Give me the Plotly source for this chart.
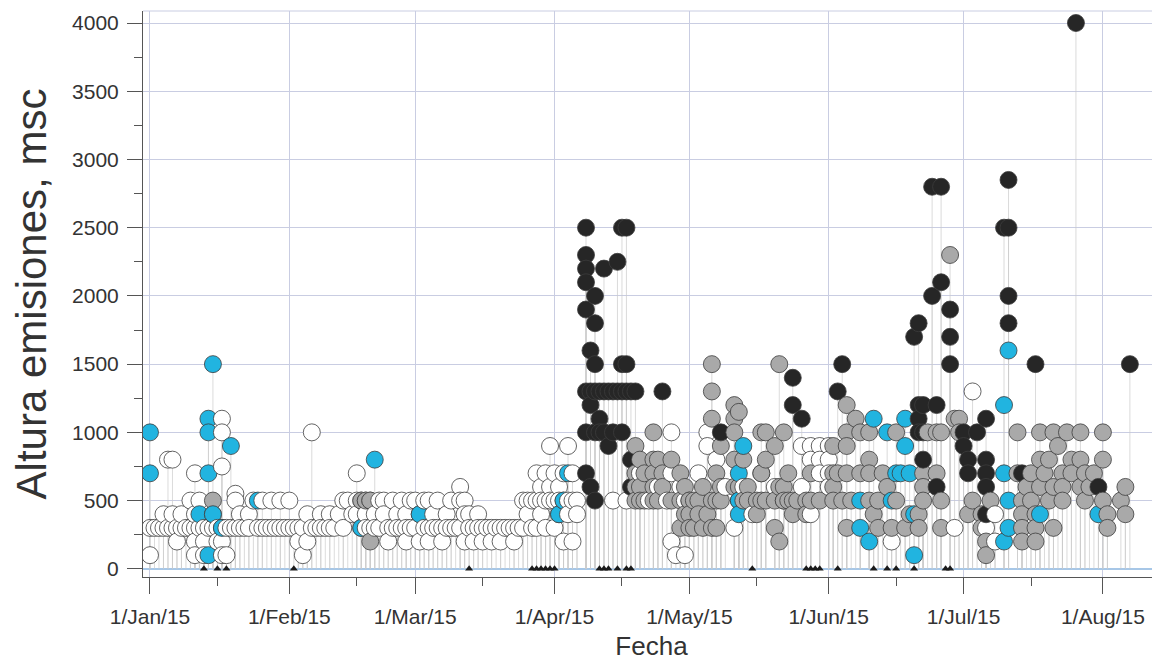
import plotly.graph_objects as go

# ---------------- data (month-day, heights in m) ----------------
WHITE = [
    ("01-01", [300, 100]), ("01-02", [300]), ("01-03", [300]), ("01-04", [300, 400]), ("01-05", [300, 800]),
    ("01-06", [300, 800, 400]), ("01-07", [300, 200]), ("01-08", [300, 400]), ("01-09", [300]), ("01-10", [300, 500]),
    ("01-11", [300, 700, 400, 200, 100]), ("01-12", [300, 500]), ("01-13", [300, 200, 100]), ("01-14", [300]),
    ("01-15", [300, 400]), ("01-16", [300, 200]), ("01-17", [1100, 1000, 750, 300, 200, 100]), ("01-18", [300, 100]),
    ("01-19", [300]), ("01-20", [550, 500, 300]), ("01-21", [400, 300]), ("01-22", [300]), ("01-23", [400, 300]),
    ("01-24", [500]), ("01-25", [300]), ("01-26", [500, 300]), ("01-27", [300]), ("01-28", [500, 300]),
    ("01-29", [300]), ("01-30", [500, 300]), ("01-31", [300]),
    ("02-01", [500, 300]), ("02-02", [300]), ("02-03", [300, 200]), ("02-04", [300, 100]), ("02-05", [400, 200]),
    ("02-06", [1000, 300]), ("02-07", [300]), ("02-08", [400, 300]), ("02-09", [300]), ("02-10", [400, 300]),
    ("02-11", [300]), ("02-12", [400]), ("02-13", [500, 300]), ("02-14", [500]), ("02-15", [400]),
    ("02-16", [700, 500, 400]), ("02-17", [500, 300]), ("02-18", [500, 400, 300]), ("02-19", [500, 300]),
    ("02-20", [400, 300]), ("02-21", [500, 300]), ("02-22", [500, 400]), ("02-23", [300, 200]), ("02-24", [500, 300]),
    ("02-25", [400, 300]), ("02-26", [500, 300]), ("02-27", [400, 300, 200]), ("02-28", [500, 300]),
    ("03-01", [500, 300]), ("03-02", [400, 200]), ("03-03", [500, 300]), ("03-04", [500, 300, 200]),
    ("03-05", [400, 300]), ("03-06", [500, 300]), ("03-07", [300, 200]), ("03-08", [400, 300]), ("03-09", [500, 300]),
    ("03-10", [300]), ("03-11", [600, 500, 300]), ("03-12", [500, 400, 200]), ("03-13", [400, 300]),
    ("03-14", [300, 200]), ("03-15", [400, 300]), ("03-16", [300, 200]), ("03-17", [300]), ("03-18", [300, 200]),
    ("03-19", [300]), ("03-20", [300, 200]), ("03-21", [300]), ("03-22", [300]), ("03-23", [300, 200]),
    ("03-24", [300]), ("03-25", [500, 300]), ("03-26", [500, 400]), ("03-27", [500, 300]), ("03-28", [700, 500, 300]),
    ("03-29", [600, 500, 400]), ("03-30", [700, 500, 300]), ("03-31", [900, 600, 500]),
    ("04-01", [700, 500, 300]), ("04-02", [600, 500, 400]), ("04-03", [700, 500, 200]), ("04-04", [900, 500, 400]),
    ("04-05", [700, 500, 200]), ("04-06", [500, 400]), ("04-14", [500]), ("04-17", [500]), ("04-20", [700]),
    ("04-22", [500]), ("04-24", [600]), ("04-26", [500]), ("04-27", [1000, 700, 200]), ("04-28", [100]),
    ("04-29", [600]), ("04-30", [500, 100]),
    ("05-01", [500]), ("05-03", [700]), ("05-05", [1000, 900]), ("05-07", [800]), ("05-09", [600]),
    ("05-11", [300]), ("05-13", [600]), ("05-15", [400]), ("05-17", [700]), ("05-20", [600]),
    ("05-22", [500]), ("05-26", [900, 600]), ("05-28", [900, 800, 400]), ("05-30", [900, 800, 700]),
    ("06-01", [900, 800, 700, 600]), ("06-15", [200]), ("06-29", [300]),
    ("07-03", [1300]), ("07-06", [300]), ("07-08", [400, 200]),
]

CYAN = [
    ("01-01", [1000, 700]), ("01-12", [400]), ("01-14", [1100, 1000, 700, 100]), ("01-15", [1500, 400]),
    ("01-17", [300]), ("01-19", [900]), ("01-25", [500]), ("02-17", [300]), ("02-20", [800]), ("03-02", [400]),
    ("04-02", [400]), ("04-03", [500]), ("04-04", [700]),
    ("05-12", [700, 500, 400]), ("05-13", [900]),
    ("06-08", [500, 300]), ("06-10", [200]), ("06-11", [1100]), ("06-14", [1000]), ("06-15", [500]),
    ("06-16", [700]), ("06-17", [700]), ("06-18", [1100, 900]), ("06-19", [700]), ("06-20", [400, 100]),
    ("07-10", [1200, 700, 200]), ("07-11", [1600, 500, 300]), ("07-18", [400]), ("07-31", [400]),
]

GRAY = [
    ("01-15", [500]), ("02-17", [500]), ("02-18", [500]), ("02-19", [500, 200]),
    ("04-19", [900, 700, 600, 500]), ("04-20", [800, 600, 500]), ("04-21", [700, 500]),
    ("04-23", [1000, 800, 700, 600, 500]), ("04-24", [800, 500]), ("04-25", [700, 600]), ("04-27", [800, 500]),
    ("04-29", [700, 500, 300]), ("04-30", [600, 400]),
    ("05-01", [500, 400, 300]), ("05-02", [500, 300]), ("05-03", [500, 400]), ("05-04", [600, 300]),
    ("05-05", [400]), ("05-06", [1500, 1300, 1100, 500, 300]), ("05-07", [700, 500, 300]),
    ("05-08", [900, 600, 500]), ("05-11", [1200, 1100, 1000, 800, 600]), ("05-12", [1150, 600, 500]),
    ("05-13", [800, 500]), ("05-14", [600, 500]), ("05-16", [500, 400]), ("05-17", [1000, 700, 500]),
    ("05-18", [1000, 800, 500]), ("05-20", [900, 500, 300]), ("05-21", [1500, 600, 200]),
    ("05-22", [1000, 600, 500]), ("05-23", [700, 500]), ("05-24", [500, 400]), ("05-25", [500]),
    ("05-27", [500, 400]), ("05-28", [700, 500]), ("05-30", [500]),
    ("06-02", [900, 700, 600, 500]), ("06-03", [700]), ("06-04", [500]), ("06-05", [1200, 1000, 900, 700, 300]),
    ("06-06", [500]), ("06-07", [1100]), ("06-08", [1000, 700]), ("06-10", [1000, 800, 700, 500]),
    ("06-11", [400]), ("06-12", [500, 300]), ("06-13", [700]), ("06-14", [600]), ("06-15", [300]),
    ("06-16", [1000, 500]), ("06-18", [300]), ("06-19", [400]), ("06-21", [400, 300]), ("06-22", [700, 600, 500]),
    ("06-23", [1000]), ("06-25", [1000, 700]), ("06-26", [1000, 500, 300]), ("06-28", [2300]),
    ("06-29", [1100]), ("06-30", [1100, 1000]),
    ("07-02", [400]), ("07-03", [500]), ("07-05", [400, 300]), ("07-06", [200, 100]), ("07-07", [500]),
    ("07-13", [1000, 700]), ("07-14", [500, 400, 300, 200]), ("07-15", [600]), ("07-16", [700, 500]),
    ("07-17", [400, 300, 200]), ("07-18", [1000, 800, 600]), ("07-19", [700]), ("07-20", [800, 500]),
    ("07-21", [1000, 600, 300]), ("07-22", [900]), ("07-23", [700, 600, 500]), ("07-24", [1000]),
    ("07-25", [800, 700]), ("07-27", [1000, 800, 600]), ("07-28", [700, 500]), ("07-29", [600]),
    ("07-30", [700]), ("08-01", [1000, 800, 500]), ("08-02", [400, 300]), ("08-05", [500]), ("08-06", [600, 400]),
]

BLACK = [
    ("04-08", [2500, 2300, 2200, 2100, 1900, 1300, 1000, 700]), ("04-09", [1600, 1300, 1200, 600]),
    ("04-10", [2000, 1800, 1500, 1300, 1000, 500]), ("04-11", [1300, 1100, 1000]), ("04-12", [2200, 1300, 1000]),
    ("04-13", [1300, 900]), ("04-14", [1300, 1000]), ("04-15", [2250, 1300]), ("04-16", [2500, 1500, 1300, 1000]),
    ("04-17", [2500, 1500, 1300]), ("04-18", [1300, 800, 600]), ("04-19", [1300]), ("04-25", [1300]),
    ("05-08", [1000]), ("05-24", [1400, 1200]), ("05-26", [1100]),
    ("06-03", [1300]), ("06-04", [1500]), ("06-20", [1700]), ("06-21", [1800, 1200, 1100, 1000]),
    ("06-22", [1200, 1000, 800]), ("06-24", [2800, 2000]), ("06-25", [1200, 600]), ("06-26", [2800, 2100]),
    ("06-28", [1900, 1700, 1500]), ("07-01", [1000, 900]), ("07-02", [800, 700]), ("07-04", [1000]),
    ("07-06", [1100, 800, 700, 600, 400]), ("07-10", [2500]), ("07-11", [2850, 2500, 2000, 1800]),
    ("07-14", [700]), ("07-17", [1500]), ("07-26", [4000]), ("07-31", [600]), ("08-07", [1500]),
]

ZERO_EVENTS = [
    "01-13", "01-16", "01-18", "02-02", "03-13", "03-27", "03-28", "03-29", "03-30", "03-31", "04-01",
    "04-11", "04-12", "04-13", "04-15", "04-17", "04-18", "05-15", "05-27", "05-28", "05-29", "05-30",
    "06-03", "06-11", "06-14", "06-16", "06-20", "06-27", "06-28",
]

MONTH_TICKS = ["2015-01-01", "2015-02-01", "2015-03-01", "2015-04-01", "2015-05-01",
               "2015-06-01", "2015-07-01", "2015-08-01"]
MID_TICKS = ["2015-01-16", "2015-02-16", "2015-03-16", "2015-04-16", "2015-05-16",
             "2015-06-16", "2015-07-16", "2015-08-16"]

# ---------------- styling ----------------
COLORS = {"white": "#ffffff", "gray": "#a9a9a9", "cyan": "#21b4e0", "black": "#262626"}
RANK = {"white": 0, "gray": 1, "cyan": 2, "black": 3}
GRID = "#c9cde2"
AXIS = "#555555"
TXT = "#333333"
FONT = "Liberation Sans, Arial, sans-serif"

points = []
for name, rows in (("white", WHITE), ("gray", GRAY), ("cyan", CYAN), ("black", BLACK)):
    for md, vals in rows:
        for v in vals:
            points.append(("2015-" + md, v, name))
points.sort(key=lambda p: (p[0], RANK[p[2]]))

px = [p[0] for p in points]
py = [p[1] for p in points]
pc = [COLORS[p[2]] for p in points]

stem_x, stem_y = [], []
for d, v, _ in points:
    stem_x += [d, d, None]
    stem_y += [0, v, None]

fig = go.Figure()
fig.add_trace(go.Scatter(x=stem_x, y=stem_y, mode="lines",
                         line=dict(color="#cccccc", width=0.7), hoverinfo="skip", showlegend=False))
fig.add_trace(go.Scatter(x=px, y=py, mode="markers",
                         marker=dict(size=17, color=pc, line=dict(color="#3c3c3c", width=0.8)),
                         showlegend=False))
fig.add_trace(go.Scatter(x=["2015-" + d for d in ZERO_EVENTS], y=[0] * len(ZERO_EVENTS), mode="markers",
                         marker=dict(symbol="triangle-up", size=7, color="#1a1a1a"),
                         showlegend=False))

fig.update_layout(
    width=1160, height=667,
    margin=dict(l=135, r=8, t=3, b=98),
    paper_bgcolor="white", plot_bgcolor="white",
    font=dict(family=FONT, color=TXT),
    showlegend=False,
    xaxis=dict(
        type="date", automargin=False,
        range=["2014-12-30 10:40", "2015-08-13 16:48"],
        tickvals=MONTH_TICKS, tickformat="%-d/%b/%y",
        ticks="outside", ticklen=16, tickcolor=AXIS, tickwidth=1,
        showline=True, linecolor=AXIS, linewidth=1,
        showgrid=True, gridcolor=GRID, gridwidth=1,
        tickfont=dict(size=21, color=TXT), ticklabelstandoff=5,
        minor=dict(tickvals=MID_TICKS, ticks="outside", ticklen=8, tickcolor=AXIS, showgrid=False),
        title=dict(text="Fecha", font=dict(size=26, color=TXT), standoff=9),
        zeroline=False,
    ),
    yaxis=dict(
        automargin=False,
        range=[-60, 4088],
        tickvals=[0, 500, 1000, 1500, 2000, 2500, 3000, 3500, 4000],
        ticks="outside", ticklen=15, tickcolor=AXIS, tickwidth=1,
        showline=True, linecolor=AXIS, linewidth=1,
        showgrid=True, gridcolor=GRID, gridwidth=1,
        zeroline=True, zerolinecolor="#a7c7e7", zerolinewidth=1.5,
        tickfont=dict(size=21, color=TXT), ticklabelstandoff=4,
        minor=dict(dtick=250, tick0=0, ticks="outside", ticklen=8, tickcolor=AXIS, showgrid=False),
        title=dict(text="Altura emisiones, msc", font=dict(size=42, color=TXT), standoff=22),
    ),
    shapes=[dict(type="line", xref="paper", yref="paper", x0=0, x1=1, y0=1, y1=1,
                 line=dict(color=GRID, width=1))],
)

fig.write_html("out.html")
